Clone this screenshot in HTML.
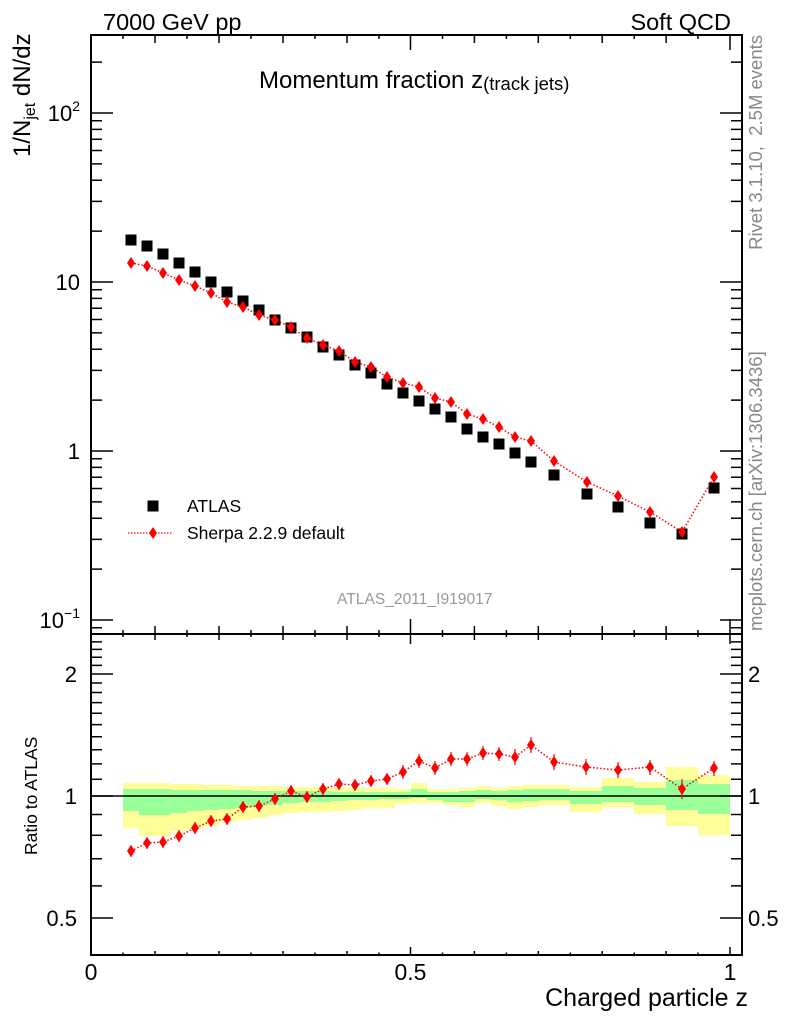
<!DOCTYPE html>
<html><head><meta charset="utf-8"><style>
html,body{margin:0;padding:0;background:#fff;}
svg{display:block;font-family:"Liberation Sans",Arial,sans-serif;}
</style></head><body>
<svg width="786" height="1024" viewBox="0 0 786 1024" xmlns="http://www.w3.org/2000/svg">
<defs>
<path id="d" d="M0,-6 L4,0 L0,6 L-4,0 Z" fill="#ff0000"/>
<rect id="s" x="-5.5" y="-5.5" width="11" height="11" fill="#000"/>
</defs>
<rect x="0" y="0" width="786" height="1024" fill="#fff"/>

<!-- header -->
<text x="103" y="30" font-size="23.5" fill="#000">7000 GeV pp</text>
<text x="731" y="30" font-size="23.5" fill="#000" text-anchor="end">Soft QCD</text>

<!-- right gray texts -->
<text transform="translate(762,35) rotate(-90)" font-size="18.5" fill="#888" text-anchor="end">Rivet 3.1.10,&#160; 2.5M events</text>
<text transform="translate(762,631) rotate(-90)" font-size="18.5" fill="#888">mcplots.cern.ch [arXiv:1306.3436]</text>

<!-- ratio bands -->
<g>
<rect x="123" y="783" width="16" height="45" fill="#ffff99"/><rect x="123" y="789" width="16" height="22" fill="#99ff99"/>
<rect x="139" y="783" width="16" height="53" fill="#ffff99"/><rect x="139" y="789" width="16" height="26" fill="#99ff99"/>
<rect x="155" y="783" width="16" height="53" fill="#ffff99"/><rect x="155" y="789" width="16" height="26" fill="#99ff99"/>
<rect x="171" y="784" width="16" height="47" fill="#ffff99"/><rect x="171" y="790" width="16" height="23" fill="#99ff99"/>
<rect x="187" y="784" width="16" height="45" fill="#ffff99"/><rect x="187" y="790" width="16" height="21" fill="#99ff99"/>
<rect x="203" y="785" width="16" height="41" fill="#ffff99"/><rect x="203" y="790" width="16" height="20" fill="#99ff99"/>
<rect x="219" y="785" width="16" height="37" fill="#ffff99"/><rect x="219" y="790" width="16" height="19" fill="#99ff99"/>
<rect x="235" y="786" width="16" height="34" fill="#ffff99"/><rect x="235" y="790" width="16" height="18" fill="#99ff99"/>
<rect x="251" y="786" width="16" height="32" fill="#ffff99"/><rect x="251" y="791" width="16" height="15" fill="#99ff99"/>
<rect x="267" y="786" width="16" height="29" fill="#ffff99"/><rect x="267" y="791" width="16" height="14" fill="#99ff99"/>
<rect x="283" y="787" width="16" height="26" fill="#ffff99"/><rect x="283" y="791" width="16" height="12" fill="#99ff99"/>
<rect x="299" y="787" width="16" height="25" fill="#ffff99"/><rect x="299" y="791" width="16" height="11" fill="#99ff99"/>
<rect x="315" y="787" width="16" height="25" fill="#ffff99"/><rect x="315" y="791" width="16" height="11" fill="#99ff99"/>
<rect x="331" y="788" width="16" height="23" fill="#ffff99"/><rect x="331" y="792" width="16" height="9" fill="#99ff99"/>
<rect x="347" y="788" width="16" height="22" fill="#ffff99"/><rect x="347" y="792" width="16" height="8" fill="#99ff99"/>
<rect x="363" y="788" width="16" height="20" fill="#ffff99"/><rect x="363" y="792" width="16" height="8" fill="#99ff99"/>
<rect x="379" y="788" width="16" height="20" fill="#ffff99"/><rect x="379" y="792" width="16" height="7" fill="#99ff99"/>
<rect x="395" y="789" width="16" height="15" fill="#ffff99"/><rect x="395" y="792" width="16" height="7" fill="#99ff99"/>
<rect x="411" y="783" width="16" height="20" fill="#ffff99"/><rect x="411" y="789" width="16" height="9" fill="#99ff99"/>
<rect x="427" y="789" width="16" height="14" fill="#ffff99"/><rect x="427" y="792" width="16" height="8" fill="#99ff99"/>
<rect x="443" y="789" width="16" height="16" fill="#ffff99"/><rect x="443" y="792" width="16" height="10" fill="#99ff99"/>
<rect x="459" y="788" width="16" height="19" fill="#ffff99"/><rect x="459" y="791" width="16" height="11" fill="#99ff99"/>
<rect x="475" y="786" width="16" height="17" fill="#ffff99"/><rect x="475" y="790" width="16" height="9" fill="#99ff99"/>
<rect x="491" y="788" width="16" height="18" fill="#ffff99"/><rect x="491" y="791" width="16" height="9" fill="#99ff99"/>
<rect x="507" y="786" width="16" height="23" fill="#ffff99"/><rect x="507" y="790" width="16" height="12" fill="#99ff99"/>
<rect x="523" y="785" width="16" height="22" fill="#ffff99"/><rect x="523" y="789" width="16" height="12" fill="#99ff99"/>
<rect x="539" y="785" width="31" height="20" fill="#ffff99"/><rect x="539" y="789" width="31" height="11" fill="#99ff99"/>
<rect x="570" y="787" width="32" height="25" fill="#ffff99"/><rect x="570" y="791" width="32" height="13" fill="#99ff99"/>
<rect x="602" y="778" width="32" height="29" fill="#ffff99"/><rect x="602" y="786" width="32" height="16" fill="#99ff99"/>
<rect x="634" y="782" width="32" height="32" fill="#ffff99"/><rect x="634" y="788" width="32" height="17" fill="#99ff99"/>
<rect x="666" y="767" width="32" height="59" fill="#ffff99"/><rect x="666" y="780" width="32" height="30" fill="#99ff99"/>
<rect x="698" y="775" width="32" height="60" fill="#ffff99"/><rect x="698" y="784" width="32" height="30" fill="#99ff99"/>
</g>
<line x1="91" y1="796" x2="742" y2="796" stroke="#000" stroke-width="1.5"/>

<!-- frame -->
<rect x="91" y="35" width="651" height="920" fill="none" stroke="#000" stroke-width="2"/>
<line x1="91" y1="634" x2="742" y2="634" stroke="#000" stroke-width="2"/>

<!-- x ticks -->
<path stroke="#000" stroke-width="1.5" fill="none" d="
M123 35v4 M155 35v8 M187 35v4 M219 35v8 M251 35v4 M283 35v8 M315 35v4 M347 35v8 M379 35v4 M410.5 35v15 M442.5 35v4 M474.4 35v8 M506.4 35v4 M538.3 35v8 M570.3 35v4 M602.2 35v8 M634.2 35v4 M666.1 35v8 M698 35v4 M730 35v15
M123 634v-4 M155 634v-8 M187 634v-4 M219 634v-8 M251 634v-4 M283 634v-8 M315 634v-4 M347 634v-8 M379 634v-4 M410.5 634v-15 M442.5 634v-4 M474.4 634v-8 M506.4 634v-4 M538.3 634v-8 M570.3 634v-4 M602.2 634v-8 M634.2 634v-4 M666.1 634v-8 M698 634v-4 M730 634v-15
M123 634v3 M155 634v6 M187 634v3 M219 634v6 M251 634v3 M283 634v6 M315 634v3 M347 634v6 M379 634v3 M410.5 634v10 M442.5 634v3 M474.4 634v6 M506.4 634v3 M538.3 634v6 M570.3 634v3 M602.2 634v6 M634.2 634v3 M666.1 634v6 M698 634v3 M730 634v10
M123 955v-2.5 M155 955v-4 M187 955v-2.5 M219 955v-4 M251 955v-2.5 M283 955v-4 M315 955v-2.5 M347 955v-4 M379 955v-2.5 M410.5 955v-8 M442.5 955v-2.5 M474.4 955v-4 M506.4 955v-2.5 M538.3 955v-4 M570.3 955v-2.5 M602.2 955v-4 M634.2 955v-2.5 M666.1 955v-4 M698 955v-2.5 M730 955v-8
"/>

<!-- y ticks top panel -->
<path stroke="#000" stroke-width="1.5" fill="none" d="
M91 113h22 M91 282h22 M91 451h22 M91 620h22
M742 113h-22 M742 282h-22 M742 451h-22 M742 620h-22
M91 62.1h11 M91 120.7h11 M91 129.4h11 M91 139.2h11 M91 150.5h11 M91 163.9h11 M91 180.3h11 M91 201.4h11 M91 231.1h11
M91 289.7h11 M91 298.4h11 M91 308.2h11 M91 319.5h11 M91 332.9h11 M91 349.3h11 M91 370.4h11 M91 400.1h11
M91 458.7h11 M91 467.4h11 M91 477.2h11 M91 488.5h11 M91 501.9h11 M91 518.3h11 M91 539.4h11 M91 569.1h11 M91 627.7h11
M742 62.1h-11 M742 120.7h-11 M742 129.4h-11 M742 139.2h-11 M742 150.5h-11 M742 163.9h-11 M742 180.3h-11 M742 201.4h-11 M742 231.1h-11
M742 289.7h-11 M742 298.4h-11 M742 308.2h-11 M742 319.5h-11 M742 332.9h-11 M742 349.3h-11 M742 370.4h-11 M742 400.1h-11
M742 458.7h-11 M742 467.4h-11 M742 477.2h-11 M742 488.5h-11 M742 501.9h-11 M742 518.3h-11 M742 539.4h-11 M742 569.1h-11 M742 627.7h-11
"/>

<!-- y ticks ratio panel -->
<path stroke="#000" stroke-width="1.5" fill="none" d="
M91 918h22 M91 796h22 M91 674h22
M742 918h-22 M742 796h-22 M742 674h-22
M91 885.9h11 M91 858.8h11 M91 835.3h11 M91 814.5h11 M91 779.2h11 M91 763.9h11 M91 749.8h11 M91 736.8h11 M91 724.6h11 M91 713.3h11 M91 702.6h11 M91 692.5h11 M91 683h11 M91 665.4h11 M91 657.2h11 M91 649.4h11 M91 641.9h11
M742 885.9h-11 M742 858.8h-11 M742 835.3h-11 M742 814.5h-11 M742 779.2h-11 M742 763.9h-11 M742 749.8h-11 M742 736.8h-11 M742 724.6h-11 M742 713.3h-11 M742 702.6h-11 M742 692.5h-11 M742 683h-11 M742 665.4h-11 M742 657.2h-11 M742 649.4h-11 M742 641.9h-11
"/>

<!-- tick labels -->
<g font-size="22" fill="#000" text-anchor="end">
<text x="80" y="121">10<tspan font-size="14" dy="-10">2</tspan></text>
<text x="80" y="290">10</text>
<text x="80" y="459">1</text>
<text x="80" y="628">10<tspan font-size="14" dy="-10">−1</tspan></text>
<text x="77" y="682">2</text>
<text x="77" y="804">1</text>
<text x="77" y="926">0.5</text>
</g>
<g font-size="22" fill="#000">
<text x="748" y="682">2</text>
<text x="748" y="804">1</text>
<text x="748" y="926">0.5</text>
</g>
<g font-size="23" fill="#000" text-anchor="middle">
<text x="91" y="980">0</text>
<text x="410.5" y="980">0.5</text>
<text x="730" y="980">1</text>
</g>
<text x="748" y="1006" font-size="25" text-anchor="end" fill="#000">Charged particle z</text>

<!-- axis labels -->
<text transform="translate(30,157) rotate(-90)" font-size="24" fill="#000">1/N<tspan font-size="16" dy="5">jet</tspan><tspan dy="-5"> dN/dz</tspan></text>
<text transform="translate(37,855) rotate(-90)" font-size="17.5" fill="#000">Ratio to ATLAS</text>

<!-- title -->
<text x="259" y="88" font-size="24" fill="#000">Momentum fraction <tspan font-size="24">z</tspan><tspan font-size="18.5" dy="2">(track jets)</tspan></text>

<!-- legend -->
<use href="#s" x="153" y="506"/>
<text x="187" y="512" font-size="17.5" fill="#000">ATLAS</text>
<line x1="128" y1="533" x2="172" y2="533" stroke="#ff0000" stroke-width="1.3" stroke-dasharray="1.5,1.5"/>
<use href="#d" x="153" y="533"/>
<text x="187" y="539" font-size="17.5" fill="#000">Sherpa 2.2.9 default</text>
<text x="337" y="604" font-size="15.6" fill="#999">ATLAS_2011_I919017</text>

<!-- ATLAS data -->
<g>
<use href="#s" x="131" y="240"/><use href="#s" x="147" y="246"/><use href="#s" x="163" y="254"/><use href="#s" x="179" y="263"/>
<use href="#s" x="195" y="272"/><use href="#s" x="211" y="282"/><use href="#s" x="227" y="292"/><use href="#s" x="243" y="301"/>
<use href="#s" x="259" y="310"/><use href="#s" x="275" y="320"/><use href="#s" x="291" y="328"/><use href="#s" x="307" y="337"/>
<use href="#s" x="323" y="347"/><use href="#s" x="339" y="355"/><use href="#s" x="355" y="365"/><use href="#s" x="371" y="373"/>
<use href="#s" x="387" y="384"/><use href="#s" x="403" y="393"/><use href="#s" x="419" y="401"/><use href="#s" x="435" y="409"/>
<use href="#s" x="451" y="417"/><use href="#s" x="467" y="429"/><use href="#s" x="483" y="437"/><use href="#s" x="499" y="444"/>
<use href="#s" x="515" y="453"/><use href="#s" x="531" y="462"/><use href="#s" x="554" y="475"/><use href="#s" x="587" y="494"/>
<use href="#s" x="618" y="507"/><use href="#s" x="650" y="523"/><use href="#s" x="682" y="534"/><use href="#s" x="714" y="488"/>
</g>

<!-- Sherpa top -->
<polyline fill="none" stroke="#ff0000" stroke-width="1.5" stroke-dasharray="1.5,2" points="131,263 147,266 163,273 179,280 195,286 211,293 227,302 243,307 259,315 275,320 291,327 307,338 323,345 339,351 355,362 371,367 387,377 403,383 419,387 435,398 451,402 467,414 483,419 499,427 515,437 531,441 554,461 587,482 618,496 650,512 682,532 714,477"/>
<g>
<use href="#d" x="131" y="263"/><use href="#d" x="147" y="266"/><use href="#d" x="163" y="273"/><use href="#d" x="179" y="280"/>
<use href="#d" x="195" y="286"/><use href="#d" x="211" y="293"/><use href="#d" x="227" y="302"/><use href="#d" x="243" y="307"/>
<use href="#d" x="259" y="315"/><use href="#d" x="275" y="320"/><use href="#d" x="291" y="327"/><use href="#d" x="307" y="338"/>
<use href="#d" x="323" y="345"/><use href="#d" x="339" y="351"/><use href="#d" x="355" y="362"/><use href="#d" x="371" y="367"/>
<use href="#d" x="387" y="377"/><use href="#d" x="403" y="383"/><use href="#d" x="419" y="387"/><use href="#d" x="435" y="398"/>
<use href="#d" x="451" y="402"/><use href="#d" x="467" y="414"/><use href="#d" x="483" y="419"/><use href="#d" x="499" y="427"/>
<use href="#d" x="515" y="437"/><use href="#d" x="531" y="441"/><use href="#d" x="554" y="461"/><use href="#d" x="587" y="482"/>
<use href="#d" x="618" y="496"/><use href="#d" x="650" y="512"/><use href="#d" x="682" y="532"/><use href="#d" x="714" y="477"/>
</g>

<!-- Sherpa ratio -->
<polyline fill="none" stroke="#ff0000" stroke-width="1.5" stroke-dasharray="1.5,2" points="131,851 147,843 163,842 179,836 195,828 211,821 227,819 243,807 259,806 275,799 291,791 307,797 323,789 339,784 355,785 371,781 387,779 403,772 419,761 435,768 451,759 467,759 483,753 499,754 515,757 531,745 554,762 586,767 618,770 650,767 682,789 714,768"/>
<path fill="none" stroke="#ff0000" stroke-width="1.2" d="
M131 845v12 M147 837v12 M163 836v12 M179 830v12 M195 822v12 M211 815v12 M227 813v12 M243 801v12
M259 800v12 M275 793v12 M291 785v12 M307 791v12 M323 783v12 M339 778v12 M355 779v12 M371 775v12
M387 773v12 M403 765v14 M419 754v14 M435 761v14 M451 752v14 M467 752v14 M483 746v14 M499 747v14
M515 749v16 M531 737v16 M554 754v16 M586 759v16 M618 762v16 M650 760v15 M682 779v20 M714 761v15"/>
<g>
<use href="#d" x="131" y="851"/><use href="#d" x="147" y="843"/><use href="#d" x="163" y="842"/><use href="#d" x="179" y="836"/>
<use href="#d" x="195" y="828"/><use href="#d" x="211" y="821"/><use href="#d" x="227" y="819"/><use href="#d" x="243" y="807"/>
<use href="#d" x="259" y="806"/><use href="#d" x="275" y="799"/><use href="#d" x="291" y="791"/><use href="#d" x="307" y="797"/>
<use href="#d" x="323" y="789"/><use href="#d" x="339" y="784"/><use href="#d" x="355" y="785"/><use href="#d" x="371" y="781"/>
<use href="#d" x="387" y="779"/><use href="#d" x="403" y="772"/><use href="#d" x="419" y="761"/><use href="#d" x="435" y="768"/>
<use href="#d" x="451" y="759"/><use href="#d" x="467" y="759"/><use href="#d" x="483" y="753"/><use href="#d" x="499" y="754"/>
<use href="#d" x="515" y="757"/><use href="#d" x="531" y="745"/><use href="#d" x="554" y="762"/><use href="#d" x="586" y="767"/>
<use href="#d" x="618" y="770"/><use href="#d" x="650" y="767"/><use href="#d" x="682" y="789"/><use href="#d" x="714" y="768"/>
</g>
</svg>
</body></html>
